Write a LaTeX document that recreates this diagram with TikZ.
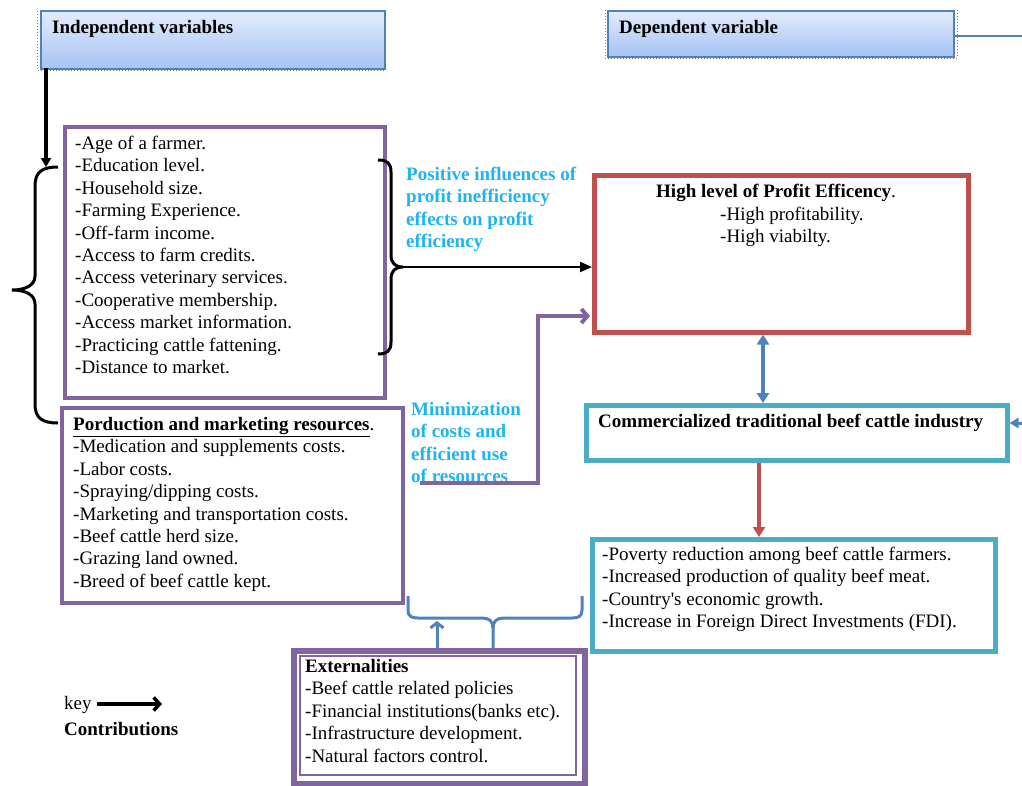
\documentclass[tikz,border=0pt]{standalone}
\usepackage{fontspec}
\setmainfont{Liberation Serif}
\usetikzlibrary{arrows.meta}
\definecolor{purp}{HTML}{8064A2}
\definecolor{redb}{HTML}{C0504D}
\definecolor{cyanb}{HTML}{4BACC6}
\definecolor{blueb}{HTML}{4F81BD}
\definecolor{skyt}{HTML}{1EB4F0}
\definecolor{hdrtop}{HTML}{E3ECFC}
\definecolor{hdrbot}{HTML}{A4C2F4}
\definecolor{hdrline}{HTML}{4F81BD}
\begin{document}
\begin{tikzpicture}[x=1pt,y=-1pt,
  txt/.style={anchor=north west, inner sep=0pt, align=left, font=\fontsize{19}{22.45}\selectfont},
  bluetxt/.style={txt, text=skyt, font=\fontsize{19}{22.45}\selectfont\bfseries},
  box/.style={anchor=north west, inner sep=0pt, draw, rectangle},
  hdr/.style={box, draw=hdrline, line width=2pt, top color=hdrtop, bottom color=hdrbot},
  selline/.style={draw=gray, line width=1pt, dotted},
  bracepath/.style={draw=black, line width=3pt},
]
\useasboundingbox (0,0) rectangle (1022,785);

% header boxes
\draw[selline] (37,11) -- (37,70) -- (386,70);
\node[hdr, minimum width=344pt, minimum height=58pt] (indep) at (40,10) {};
\node[txt, font=\fontsize{19}{22.45}\selectfont\bfseries] (indept) at (52,17.3) {\strut Independent variables};
\draw[selline] (605,10) -- (605,58) -- (957,58) -- (957,10);
\node[hdr, minimum width=346pt, minimum height=46pt] (dep) at (607,10) {};
\node[txt, font=\fontsize{19}{22.45}\selectfont\bfseries] (dept) at (619,17.3) {\strut Dependent variable};
\coordinate (dout) at (1022,36);
\draw[draw=blueb, line width=2.5pt] (dep.east |- dout) -- (dout);

% box 1
\node[box, draw=purp, line width=4pt, minimum width=320pt, minimum height=271pt] (box1) at (63,125) {};
\node[txt] (box1t) at (75,133.3) {\strut -Age of a farmer.\\
-Education level.\\
-Household size.\\
-Farming Experience.\\
-Off-farm income.\\
-Access to farm credits.\\
-Access veterinary services.\\
-Cooperative membership.\\
-Access market information.\\
-Practicing cattle fattening.\\
-Distance to market.};

% box 2
\node[box, draw=purp, line width=4pt, minimum width=341pt, minimum height=195pt] (box2) at (60,406) {};
\node[txt] (box2t) at (73,414.3) {\strut \textbf{\underline{Porduction and marketing resources}}.\\
-Medication and supplements costs.\\
-Labor costs.\\
-Spraying/dipping costs.\\
-Marketing and transportation costs.\\
-Beef cattle herd size.\\
-Grazing land owned.\\
-Breed of beef cattle kept.};

% left brace and arrow from independent box
\coordinate (ltip) at (12,290);
\draw[bracepath] (58,167) .. controls (42,167) and (35,172) .. (35,186) -- (35,276) .. controls (35,285) and (26,290) .. (ltip) .. controls (26,290) and (35,295) .. (35,304) -- (35,404) .. controls (35,418) and (42,423) .. (58,423);
\coordinate (ia) at (46,68);
\coordinate (ib) at (46,167);
\draw[line width=3.2pt, -{Triangle[length=9pt,width=10pt]}] (ia) -- (ib);

% right brace
\coordinate (rtip) at (403,267);
\draw[bracepath] (378,160) .. controls (387,160) and (391,163) .. (391,172) -- (391,255) .. controls (391,263) and (395,267) .. (rtip) .. controls (395,267) and (391,271) .. (391,279) -- (391,342) .. controls (391,351) and (387,354) .. (378,354);

% texts in blue
\node[bluetxt] (post) at (406,164.3) {\strut Positive influences of\\profit inefficiency\\effects on profit\\efficiency};
\node[bluetxt] (mint) at (411,399.3) {\strut Minimization\\of costs and\\efficient use\\of resources};

% red box
\node[box, draw=redb, line width=4.5pt, minimum width=374pt, minimum height=157pt] (redbox) at (592,173) {};
\node[txt] (redt) at (656,181.3) {\strut\textbf{High level of Profit Efficency}.};
\node[txt] (redl) at (720,204.3) {\strut -High profitability.\\-High viabilty.};

% arrows into red box
\draw[line width=2pt, -{Triangle[length=12pt,width=10pt]}] (rtip) -- (rtip -| redbox.west);
\coordinate (mstart) at (420,483);
\coordinate (mturn) at (538,483);
\coordinate (mtarget) at (590,316);
\draw[draw=purp, line width=4pt, -{Straight Barb[length=6pt,width=14pt]}] (mstart) -- (mturn) |- (mtarget);

% industry box
\node[box, draw=cyanb, line width=4.5pt, minimum width=421pt, minimum height=55pt] (ind) at (584,403) {};
\node[txt, font=\fontsize{19}{22.45}\selectfont\bfseries] (indt) at (598,411.3) {\strut Commercialized traditional beef cattle industry};
\coordinate (da) at (763,0);
\draw[draw=blueb, line width=4pt, {Triangle[length=10pt,width=12pt]}-{Triangle[length=10pt,width=12pt]}] (redbox.south -| da) -- (ind.north -| da);
\coordinate (rin) at (1022,423);
\draw[draw=blueb, line width=3pt, -{Triangle[length=9pt,width=10pt]}] (rin) -- (ind.east |- rin);

% outcome box
\node[box, draw=cyanb, line width=4.5pt, minimum width=403pt, minimum height=112pt] (outc) at (590,537) {};
\node[txt] (outct) at (602,544.3) {\strut -Poverty reduction among beef cattle farmers.\\
-Increased production of quality beef meat.\\
-Country\textquotesingle s economic growth.\\
-Increase in Foreign Direct Investments (FDI).};
\coordinate (ra) at (759,0);
\draw[draw=redb, line width=4pt, -{Triangle[length=10pt,width=12pt]}] (ind.south -| ra) -- (outc.north -| ra);

% externalities
\node[box, draw=purp, line width=6pt, minimum width=291pt, minimum height=133pt] (ext) at (291,648) {};
\node[box, draw=purp, line width=2pt, minimum width=276pt, minimum height=119pt] (exti) at (299,655) {};
\node[txt] (extt) at (305,656.3) {\strut\textbf{Externalities}\\
-Beef cattle related policies\\
-Financial institutions(banks etc).\\
-Infrastructure development.\\
-Natural factors control.};

% bottom brace
\coordinate (btip) at (493,628);
\draw[draw=blueb, line width=3pt] (408,596) -- (408,610) .. controls (408,616) and (411,618) .. (418,618) -- (482,618) .. controls (489,618) and (493,621) .. (btip) -- (btip |- ext.north);
\draw[draw=blueb, line width=3pt] (582,596) -- (582,610) .. controls (582,616) and (579,618) .. (572,618) -- (504,618) .. controls (497,618) and (493,621) .. (btip);
\coordinate (ua) at (437,621);
\draw[draw=blueb, line width=3pt, -{Straight Barb[length=5pt,width=13pt]}] (ext.north -| ua) -- (ua);

% key
\node[txt] (keyt) at (64,693.3) {\strut key};
\coordinate (ka) at (97,704);
\coordinate (kb) at (162,704);
\draw[line width=3.5pt, -{Straight Barb[length=6pt,width=13pt]}] (ka) -- (kb);
\node[txt, font=\fontsize{19}{22.45}\selectfont\bfseries] (contt) at (64,719.3) {\strut Contributions};
\end{tikzpicture}
\end{document}
